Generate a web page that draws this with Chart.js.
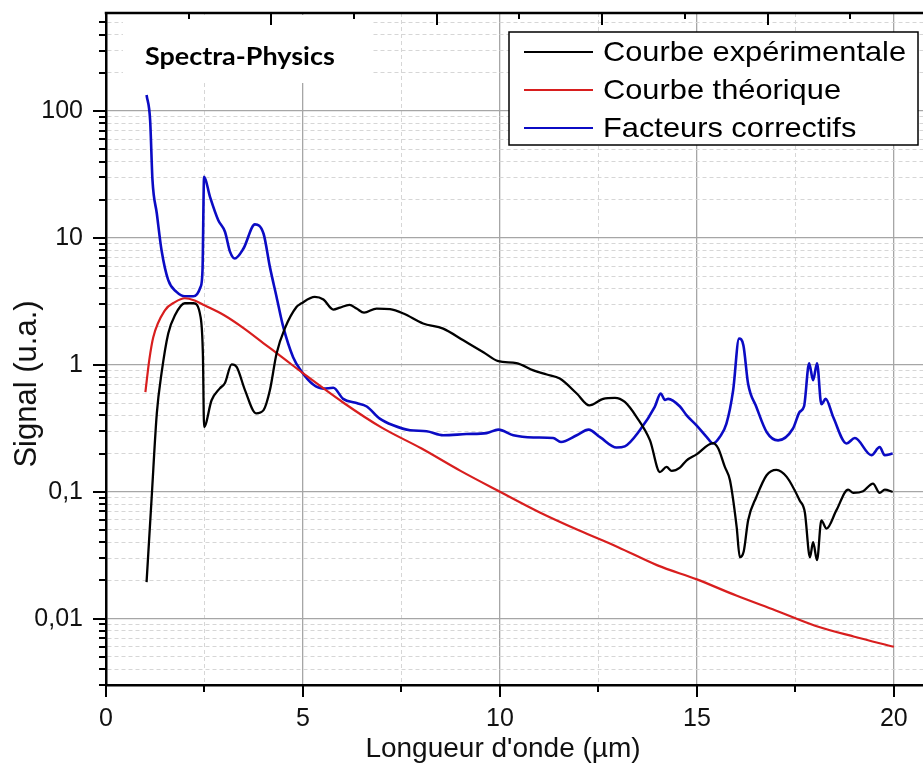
<!DOCTYPE html>
<html>
<head>
<meta charset="utf-8">
<script src="https://cdn.jsdelivr.net/npm/chart.js@4.4.1/dist/chart.umd.min.js"></script>
<style>
  html, body { margin: 0; padding: 0; background: #fff; overflow: hidden; }
</style>
</head>
<body>
<canvas id="myChart" width="923" height="769"></canvas>
<script>
// Courbe expérimentale
const expX = [1.03, 1.16, 1.29, 1.41, 1.58, 1.75, 2.0, 2.22, 2.40, 2.46, 2.49, 2.68, 2.89, 3.02, 3.19, 3.32, 3.53, 3.81, 4.0, 4.16,
  4.33, 4.54, 4.84, 4.95, 5.30, 5.52, 5.77, 5.94, 6.18, 6.36, 6.55, 6.87, 7.21, 7.55, 8.05, 8.56, 9.07, 9.58, 9.96, 10.42,
  10.85, 11.19, 11.52, 11.95, 12.27, 12.62, 12.92, 13.17, 13.47, 13.81, 14.06, 14.23, 14.36, 14.57, 14.74, 14.99, 15.41, 15.54, 15.71, 15.84,
  16.01, 16.09, 16.19, 16.30, 16.51, 16.77, 17.02, 17.28, 17.61, 17.74, 17.87, 17.95, 18.05, 18.16, 18.29, 18.54, 18.84, 18.97, 19.22, 19.47,
  19.64, 19.77, 19.97];
const expY = [0.0194, 0.091, 0.415, 0.86, 1.77, 2.46, 3.06, 3.06, 2.39, 1.2, 0.324, 0.526, 0.653, 0.72, 1.01, 0.96, 0.63, 0.415, 0.44, 0.63,
  1.23, 1.94, 2.87, 3.04, 3.43, 3.27, 2.73, 2.83, 2.97, 2.78, 2.58, 2.78, 2.75, 2.54, 2.12, 1.93, 1.56, 1.26, 1.07, 1.03,
  0.905, 0.84, 0.78, 0.595, 0.48, 0.54, 0.55, 0.51, 0.388, 0.254, 0.143, 0.157, 0.146, 0.155, 0.177, 0.197, 0.242, 0.22, 0.157, 0.123,
  0.0527, 0.0305, 0.034, 0.0594, 0.091, 0.135, 0.149, 0.131, 0.0855, 0.069, 0.0305, 0.040, 0.0289, 0.0594, 0.0512, 0.0713, 0.104, 0.098, 0.101, 0.116,
  0.098, 0.104, 0.0996];

// Courbe théorique
const theoX = [1.0, 1.1, 1.2, 1.5, 1.75, 2.0, 2.25, 2.5, 3, 3.5, 4, 4.5, 5, 6, 7, 8, 9, 10, 11, 12, 13, 14, 15, 16, 17, 18, 19, 20];
const theoY = [0.61, 1.1, 1.65, 2.7, 3.12, 3.35, 3.22, 2.95, 2.46, 1.94, 1.48, 1.13, 0.86, 0.51, 0.32, 0.22, 0.146, 0.1, 0.069, 0.0497,
  0.0366, 0.0263, 0.0204, 0.0152, 0.0116, 0.0088, 0.0072, 0.0060];

// Facteurs correctifs
const corrX = [1.03, 1.12, 1.18, 1.29, 1.41, 1.58, 1.79, 2.0, 2.22, 2.40, 2.45, 2.49, 2.64, 2.85, 3.02, 3.15, 3.27, 3.49, 3.78, 4.0,
  4.16, 4.33, 4.50, 4.75, 4.95, 5.26, 5.52, 5.77, 6.02, 6.36, 6.62, 6.95, 7.29, 7.72, 8.14, 8.56, 9.15, 9.66, 9.96, 10.34,
  10.85, 11.35, 11.55, 11.95, 12.25, 12.55, 12.96, 13.17, 13.55, 13.93, 14.08, 14.19, 14.27, 14.57, 14.74, 14.99, 15.25, 15.41, 15.58, 15.75,
  15.92, 16.07, 16.18, 16.30, 16.51, 16.77, 17.06, 17.44, 17.61, 17.72, 17.85, 17.95, 18.05, 18.16, 18.27, 18.46, 18.80, 19.01, 19.43, 19.64,
  19.77, 19.97];
const corrY = [134, 85, 28.6, 15.6, 8.0, 4.65, 3.76, 3.47, 3.47, 4.11, 5.57, 30.3, 21.1, 13.8, 11.2, 7.77, 6.89, 8.26, 12.8, 10.8,
  5.92, 3.43, 1.99, 1.15, 0.9, 0.70, 0.65, 0.66, 0.54, 0.50, 0.47, 0.377, 0.334, 0.305, 0.30, 0.279, 0.285, 0.29, 0.309, 0.279,
  0.268, 0.265, 0.247, 0.279, 0.309, 0.268, 0.223, 0.228, 0.305, 0.466, 0.594, 0.53, 0.54, 0.47, 0.40, 0.334, 0.27, 0.24, 0.27, 0.344,
  0.63, 1.61, 1.43, 0.71, 0.466, 0.296, 0.254, 0.315, 0.426, 0.47, 1.03, 0.757, 1.03, 0.489, 0.54, 0.388, 0.24, 0.265, 0.194, 0.225,
  0.194, 0.2];

const seriesNames = ['Courbe expérimentale', 'Courbe théorique', 'Facteurs correctifs'];
const seriesColors = ['#000000', '#d81e1e', '#0b0bc4'];

const xTicks = [0, 2.5, 5, 7.5, 10, 12.5, 15, 17.5, 20];
const xTickLabels = ['0', '', '5', '', '10', '', '15', '', '20'];
const yDecades = [0.01, 0.1, 1, 10, 100];
const yTickLabels = ['0,01', '0,1', '1', '10', '100'];

const xTitle = "Longueur d'onde (µm)";
const yTitle = 'Signal (u.a.)';
const brand = 'Spectra-Physics';

const FONT = '"Liberation Sans", Arial, sans-serif';

function toPoints(xs, ys) {
  return xs.map((x, i) => ({ x: x, y: ys[i] }));
}

function isDecade(v) {
  const l = Math.log10(v);
  return Math.abs(l - Math.round(l)) < 1e-6;
}

function isMajorX(v) {
  return Math.abs(v / 5 - Math.round(v / 5)) < 1e-6;
}

const frame = {
  id: 'frame',
  beforeDatasetsDraw(chart) {
    const { ctx, chartArea: a } = chart;
    // white patch behind the brand label
    ctx.save();
    ctx.fillStyle = '#fff';
    ctx.fillRect(a.left + 17, a.top + 2, 250, 68);
    ctx.restore();
  },
  afterDraw(chart) {
    const { ctx, chartArea: a, scales } = chart;
    ctx.save();
    ctx.strokeStyle = '#000';
    ctx.lineWidth = 2.5;
    ctx.beginPath();
    ctx.moveTo(a.left - 1.25, a.top);
    ctx.lineTo(a.right, a.top);
    ctx.stroke();

    ctx.lineWidth = 2;
    ctx.beginPath();
    scales.x.ticks.forEach(t => {
      const px = Math.round(scales.x.getPixelForValue(t.value));
      const len = isMajorX(t.value) ? 12 : 7;
      ctx.moveTo(px, a.bottom);
      ctx.lineTo(px, a.bottom + len);
    });
    scales.y.ticks.forEach(t => {
      const py = Math.round(scales.y.getPixelForValue(t.value));
      const len = isDecade(t.value) ? 13 : 7;
      ctx.moveTo(a.left, py);
      ctx.lineTo(a.left - len, py);
    });
    // inward ticks of the top axis
    const top = scales.xTop;
    for (let v = 0.5; v <= top.max; v += 0.5) {
      const px = Math.round(top.getPixelForValue(v));
      const len = Number.isInteger(v) ? 12 : 6;
      ctx.moveTo(px, a.top);
      ctx.lineTo(px, a.top + len);
    }
    ctx.stroke();

    // axis titles
    ctx.fillStyle = '#111';
    ctx.font = '28px ' + FONT;
    ctx.textAlign = 'center';
    ctx.textBaseline = 'middle';
    ctx.fillText(xTitle, 503, 749);
    ctx.save();
    ctx.translate(27, 384);
    ctx.rotate(-Math.PI / 2);
    ctx.font = '31px ' + FONT;
    ctx.fillText(yTitle, 0, 0);
    ctx.restore();

    // brand label
    ctx.textAlign = 'left';
    ctx.save();
    ctx.translate(145, 65);
    ctx.scale(1.1, 1);
    ctx.fillStyle = '#000';
    ctx.font = 'bold 24.5px Lato';
    ctx.textBaseline = 'alphabetic';
    ctx.fillText(brand, 0, 0);
    ctx.restore();

    // legend box
    const lx = 509, ly = 32, lw = 409, lh = 113;
    ctx.fillStyle = '#fff';
    ctx.fillRect(lx, ly, lw, lh);
    ctx.strokeStyle = '#000';
    ctx.lineWidth = 1.5;
    ctx.strokeRect(lx, ly, lw, lh);
    seriesNames.forEach((name, i) => {
      const y = 52 + i * 38;
      ctx.strokeStyle = seriesColors[i];
      ctx.lineWidth = 2;
      ctx.beginPath();
      ctx.moveTo(524, y);
      ctx.lineTo(593, y);
      ctx.stroke();
      ctx.save();
      ctx.translate(603, y + 1);
      ctx.scale(1.1, 1);
      ctx.fillStyle = '#000';
      ctx.font = '28px ' + FONT;
      ctx.textBaseline = 'middle';
      ctx.fillText(name, 0, 0);
      ctx.restore();
    });
    ctx.restore();
  }
};

const datasets = [
  { data: toPoints(expX, expY), borderWidth: 2.3 },
  { data: toPoints(theoX, theoY), borderWidth: 2.2 },
  { data: toPoints(corrX, corrY), borderWidth: 2.6 }
].map((d, i) => Object.assign({
  label: seriesNames[i],
  borderColor: seriesColors[i],
  pointRadius: 0,
  fill: false,
  cubicInterpolationMode: 'monotone'
}, d));

const gridMajor = '#a6a6a6';
const gridMinor = '#d6d6d6';

new Chart(document.getElementById('myChart'), {
  type: 'line',
  data: { datasets: datasets },
  plugins: [frame],
  options: {
    responsive: false,
    animation: false,
    layout: { padding: { top: 13, right: 0, left: 0, bottom: 0 } },
    plugins: { legend: { display: false }, tooltip: { enabled: false } },
    scales: {
      x: {
        type: 'linear',
        min: 0,
        max: 20.74,
        afterBuildTicks: s => { s.ticks = xTicks.map(v => ({ value: v })); },
        afterFit: s => { s.height = 84; s.paddingLeft = 0; s.paddingRight = 0; },
        ticks: {
          autoSkip: false,
          maxRotation: 0,
          padding: 19,
          color: '#111',
          font: { family: FONT, size: 25 },
          callback: (v, i) => xTickLabels[xTicks.indexOf(v)] ?? ''
        },
        grid: {
          drawTicks: false,
          color: c => isMajorX(c.tick.value) ? gridMajor : gridMinor,
          lineWidth: c => isMajorX(c.tick.value) ? 1.3 : 1
        },
        border: {
          display: true, color: '#000', width: 2.5,
          dash: c => (c.tick && !isMajorX(c.tick.value)) ? [4, 3] : []
        },
        title: { display: false, text: xTitle }
      },
      xTop: {
        type: 'linear',
        position: 'top',
        display: false,
        min: 0,
        max: 4.94
      },
      y: {
        type: 'logarithmic',
        min: 0.003,
        max: 593,
        afterBuildTicks: s => {
          const t = [];
          [0.001].concat(yDecades).forEach(d => {
            for (let m = 1; m <= 9; m++) {
              const v = +(m * d).toPrecision(6);
              if (v >= s.min && v <= s.max) t.push({ value: v });
            }
          });
          s.ticks = t;
        },
        afterFit: s => { s.width = 106; s.paddingTop = 0; s.paddingBottom = 0; },
        ticks: {
          autoSkip: false,
          padding: 23,
          color: '#111',
          font: { family: FONT, size: 25 },
          callback: v => {
            const i = yDecades.findIndex(d => Math.abs(Math.log10(d) - Math.log10(v)) < 1e-6);
            return i >= 0 ? yTickLabels[i] : '';
          }
        },
        grid: {
          drawTicks: false,
          color: c => isDecade(c.tick.value) ? gridMajor : gridMinor,
          lineWidth: c => isDecade(c.tick.value) ? 1.3 : 1
        },
        border: {
          display: true, color: '#000', width: 2.5,
          dash: c => (c.tick && !isDecade(c.tick.value)) ? [4, 3] : []
        },
        title: { display: false, text: yTitle }
      }
    }
  }
});
</script>
</body>
</html>
